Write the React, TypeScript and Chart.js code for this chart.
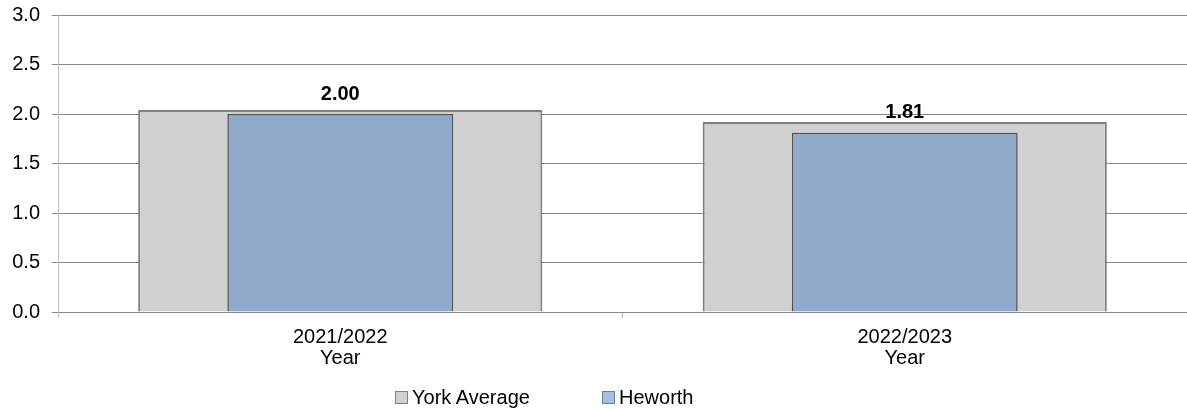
import React, { useEffect, useRef } from "react";
import { Chart, registerables } from "chart.js";

Chart.register(...registerables);

const years = ["2021/2022", "2022/2023"];
const yearLine = "Year";
const seriesNames = ["York Average", "Heworth"];
const yorkAverage = [2.04, 1.92];
const heworth = [2.0, 1.81];
const yTicks = [0, 0.5, 1.0, 1.5, 2.0, 2.5, 3.0];

const FONT = "'Liberation Sans', Arial, sans-serif";
const GREY_FILL = "#d0d0d0";
const GREY_BORDER = "#808080";
const BLUE_FILL = "#8faacb";
const BLUE_BORDER = "#505050";

const valueLabelPlugin = {
  id: "valueLabels",
  afterDatasetsDraw(chart: any) {
    const ctx = chart.ctx;
    const meta = chart.getDatasetMeta(1);
    const ds = chart.data.datasets[1];
    ctx.save();
    ctx.font = `bold 20px ${FONT}`;
    ctx.fillStyle = "#000";
    ctx.textAlign = "center";
    ctx.textBaseline = "middle";
    meta.data.forEach((bar: any, i: number) => {
      ctx.fillText(Number(ds.data[i]).toFixed(2), bar.x, bar.y - 20);
    });
    ctx.restore();
  },
};

export default function App() {
  const ref = useRef<HTMLCanvasElement | null>(null);

  useEffect(() => {
    if (!ref.current) return;
    const chart = new Chart(ref.current, {
      type: "bar",
      data: {
        labels: years.map((y) => [y, yearLine]),
        datasets: [
          {
            label: seriesNames[0],
            data: yorkAverage,
            backgroundColor: GREY_FILL,
            borderColor: GREY_BORDER,
            borderWidth: 2,
            barPercentage: 0.716,
            categoryPercentage: 1,
            grouped: false,
            order: 1,
          },
          {
            label: seriesNames[1],
            data: heworth,
            backgroundColor: BLUE_FILL,
            borderColor: BLUE_BORDER,
            borderWidth: 1.5,
            barPercentage: 0.4,
            categoryPercentage: 1,
            grouped: false,
            order: 0,
          },
        ],
      },
      options: {
        animation: false,
        responsive: false,
        maintainAspectRatio: false,
        layout: { padding: { top: 15, right: 0, left: 0, bottom: 0 } },
        plugins: {
          legend: { display: false },
          tooltip: { enabled: false },
        },
        scales: {
          x: {
            offset: true,
            afterFit: (s: any) => {
              s.height = 97;
            },
            grid: {
              display: true,
              drawOnChartArea: false,
              drawTicks: true,
              tickLength: 6,
              color: "#c0c0c0",
              offset: true,
            },
            border: { display: true, color: "#878787", width: 1 },
            ticks: {
              color: "#000",
              font: { family: FONT, size: 20, lineHeight: 1.05 },
              padding: 9,
              maxRotation: 0,
              autoSkip: false,
            },
          },
          y: {
            min: 0,
            max: 3,
            afterFit: (s: any) => {
              s.width = 58;
              s.paddingTop = 0;
              s.paddingBottom = 0;
            },
            afterBuildTicks: (s: any) => {
              s.ticks = yTicks.map((v) => ({ value: v }));
            },
            grid: {
              color: "#878787",
              tickLength: 6,
              drawTicks: true,
            },
            border: { display: true, color: "#c0c0c0", width: 1 },
            ticks: {
              color: "#000",
              font: { family: FONT, size: 20 },
              padding: 12,
              callback: (v: any) => Number(v).toFixed(1),
            },
          },
        },
      },
      plugins: [valueLabelPlugin],
    });
    return () => chart.destroy();
  }, []);

  const legendItems = [
    { name: seriesNames[0], fill: GREY_FILL, border: GREY_BORDER, left: 395 },
    { name: seriesNames[1], fill: "#a6bfe0", border: "#6a7f99", left: 602 },
  ];

  return (
    <div
      style={{
        position: "absolute",
        left: 0,
        top: 0,
        width: 1187,
        height: 409,
        background: "#fff",
        overflow: "hidden",
      }}
    >
      <canvas ref={ref} width={1187} height={409} style={{ display: "block" }} />
      {legendItems.map((it) => (
        <div
          key={it.name}
          style={{
            position: "absolute",
            left: it.left,
            top: 385,
            height: 24,
            display: "flex",
            alignItems: "center",
            fontFamily: FONT,
            fontSize: 20,
            color: "#000",
            whiteSpace: "nowrap",
          }}
        >
          <span
            style={{
              display: "inline-block",
              width: 11,
              height: 11,
              background: it.fill,
              border: `1px solid ${it.border}`,
              marginRight: 4,
            }}
          />
          <span>{it.name}</span>
        </div>
      ))}
    </div>
  );
}
